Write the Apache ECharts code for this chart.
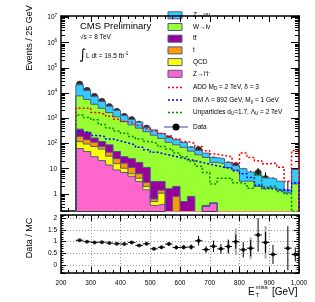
<!DOCTYPE html>
<html><head><meta charset="utf-8">
<script src="https://cdn.jsdelivr.net/npm/echarts@6.0.0/dist/echarts.min.js"></script>
<style>html,body{margin:0;padding:0;background:#fff}#c{width:315px;height:302px}</style>
</head><body><div id="c"></div>
<script>
// ---------------- data ----------------
const binLow = [250,275,300,325,350,375,400,425,450,475,500,525,550,575,600,625,650,675,700,725,750,775,800,825,850,875,900,925,950,975];
const binWidth = 25;
const zll       = [63,48,30,21,14,8.9,7.1,5.0,3.1,1.45,0.35,0.40,0,0,0,0,0,0.32,0.43,0,0,0,0,0,0,0,0,0,0,0];
const qcd       = [55,47,46,39,17.5,6.9,3.4,1.3,1.1,0.55,0.15,0.67,0,0,0,0,0,0,0,0,0,0,0,0,0,0,0,0,0,0];
const singleTop = [73,46,36,16,14,9.3,6.1,4.9,2.1,0.82,0.13,0.34,0,0.79,0,0,0,0,0,0,0,0,0,0,0,0,0,0,0,0];
const ttbar     = [181,141,54,44,43,23,13.6,13.9,11.5,8.4,2.5,1.7,1.6,1.2,0.5,0.8,0,0.03,0,0,0,0,0,0,0,0,0,0,0,0];
const wlnu      = [7390,5340,3465,2392,1609,1100,711,525,389,284,211,155,110,87,70,49,35.5,27.8,17.4,15.8,11.2,8.9,3.2,3.2,2.0,1.8,1.7,1.4,1.1,2.5];
const znunu     = [13600,6970,3780,2165,1322,894,547,341,301,142,133,93,58,52,39,22,18,13.5,9.7,9.3,6.6,4.3,6.8,4.2,3.6,2.5,2.3,1.8,0.35,6.8];
const addSignal = [2512,2512,1698,1445,1202,912,741,631,525,398,316,251,200,151,120,102,76,52,38,33,30,16.6,41.7,28.2,20.9,15.8,16.6,11.5,3.1,52.5];
const dmSignal  = [302,263,209,186,151,126,105,89,71,56,45,38,33,28,24,21,17.8,15.1,13.2,11.2,10,8.3,6.3,4.5,2.2,1.66,1.51,1.45,1.26,2.8];
const unparticles = [1349,1072,871,575,417,316,257,191,151,120,100,76,60,42,30,20,12.6,7.1,2.5,4.2,4.2,2.8,2.5,1.66,5.6,1.58,2.0,1.26,1.0,0.2];
const dataCounts = [22400,12600,7300,4600,2850,1850,1170,870,585,400,240,188,152,105,83,56,56,28,22,17,14,13,7,5,7,4,2,null,1,4];
const dataErrLo  = [150,112,85,68,53,43,34,29,24,20,15.5,13.7,12.3,10.2,9.1,7.5,7.5,5.3,4.6,4.1,3.7,3.6,2.6,2.2,2.6,1.9,1.3,null,0.83,1.9];
const dataErrHi  = [150,112,85,68,53,43,34,29,24,20,15.5,13.7,12.3,10.2,9.1,7.5,7.5,6.3,5.7,5.2,4.8,4.7,3.8,3.4,3.8,3.2,2.6,null,2.3,3.2];
const ratio      = [1.06,1.00,0.97,0.98,0.94,0.91,0.90,0.97,0.84,0.91,0.69,0.76,0.90,0.75,0.76,0.77,1.04,0.66,0.80,0.69,0.79,1.00,0.65,0.72,1.29,0.97,0.45,null,0.72,0.45];
const ratioErr   = [0.01,0.01,0.012,0.015,0.02,0.025,0.03,0.035,0.04,0.05,0.05,0.06,0.08,0.08,0.09,0.11,0.21,0.14,0.25,0.21,0.30,0.30,0.33,0.35,0.72,0.45,0.41,null,0.95,0.30];
const ratioMcErr = [0,0,0,0,0,0,0,0,0,0,0,0,0,0,0,0,0,0,0,0,0.25,0.57,0,0.46,0,0.7,0,null,0,0];
const xTickValues = [200,300,400,500,600,700,800,900,1000];
const ratioTicks = [0,0.5,1,1.5,2];

// ---------------- helpers ----------------
const FONT = '"Liberation Sans", Arial, Helvetica, sans-serif';
const FLOOR = 1e-3;
const OUT = '#4d5a8f';
const nB = binLow.length;
function stepData(vals){
  const pts = [[binLow[0], FLOOR]];
  vals.forEach((v,i)=>pts.push([binLow[i], Math.max(v, FLOOR)]));
  pts.push([binLow[nB-1]+binWidth, Math.max(vals[nB-1], FLOOR)]);
  pts.push([binLow[nB-1]+binWidth, FLOOR]);
  return pts;
}
const comps = [
  {name:'Z→l⁺l⁻', vals:zll, color:'#ff66cc'},
  {name:'QCD', vals:qcd, color:'#ffff00'},
  {name:'t', vals:singleTop, color:'#ff9900'},
  {name:'tt̄', vals:ttbar, color:'#990099'},
  {name:'W→lν', vals:wlnu, color:'#99ff33'},
  {name:'Z→νν', vals:znunu, color:'#33ccff'}
];
let run = new Array(nB).fill(0);
comps.forEach(c=>{ run = run.map((r,i)=>r + c.vals[i]); c.cum = run.slice(); });

const series = [];
comps.slice().reverse().forEach(c=>{
  series.push({type:'line', name:c.name, step:'end', data:stepData(c.cum), symbol:'none',
    xAxisIndex:0, yAxisIndex:0, lineStyle:{color:OUT, width:1},
    areaStyle:{color:c.color, opacity:1, origin:'start'}, silent:true, animation:false});
});
[[addSignal,'#ff0000'],[dmSignal,'#0000ff'],[unparticles,'#008800']].forEach(([v,col])=>{
  series.push({type:'line', step:'end', data:stepData(v), symbol:'none', xAxisIndex:0, yAxisIndex:0,
    lineStyle:{color:col, width:1.5, type:[2,2]}, silent:true, animation:false});
});
const dErr = [];
binLow.forEach((x,i)=>{ if(dataCounts[i]!=null) dErr.push([x+binWidth/2, Math.max(dataCounts[i]-dataErrLo[i],FLOOR), dataCounts[i]+dataErrHi[i]]); });
series.push({type:'custom', xAxisIndex:0, yAxisIndex:0, data:dErr, encode:{x:0,y:[1,2]}, clip:true, silent:true, animation:false,
  renderItem:(p,api)=>{ const a=api.coord([api.value(0),api.value(1)]), b=api.coord([api.value(0),api.value(2)]);
    return {type:'line', shape:{x1:a[0],y1:a[1],x2:b[0],y2:b[1]}, style:{stroke:'#000', lineWidth:1}}; }});
series.push({type:'scatter', xAxisIndex:0, yAxisIndex:0, symbol:'circle', symbolSize:7, itemStyle:{color:'#000'},
  data: binLow.map((x,i)=>dataCounts[i]==null?null:[x+binWidth/2, dataCounts[i]]).filter(d=>d), silent:true, animation:false, clip:true});

// ratio panel
const rErr = [];
binLow.forEach((x,i)=>{ if(ratio[i]!=null) rErr.push([x+binWidth/2, ratio[i], ratioErr[i], ratioMcErr[i]]); });
series.push({type:'custom', xAxisIndex:2, yAxisIndex:2, data:rErr, encode:{x:0,y:1}, clip:true, silent:true, animation:false,
  renderItem:(p,api)=>{
    const x=api.value(0), r=api.value(1), e=api.value(2), g=api.value(3);
    const ch=[];
    if(g>0){ const a=api.coord([x,r-g]), b=api.coord([x,r+g]);
      ch.push({type:'line', shape:{x1:a[0],y1:a[1],x2:b[0],y2:b[1]}, style:{stroke:'#aaaaaa', lineWidth:2}}); }
    const a=api.coord([x,r-e]), b=api.coord([x,r+e]);
    ch.push({type:'line', shape:{x1:a[0],y1:a[1],x2:b[0],y2:b[1]}, style:{stroke:'#000', lineWidth:1}});
    const l=api.coord([x-binWidth/2,r]), rr=api.coord([x+binWidth/2,r]);
    ch.push({type:'line', shape:{x1:l[0],y1:l[1],x2:rr[0],y2:rr[1]}, style:{stroke:'#000', lineWidth:1}});
    return {type:'group', children:ch};
  }});
series.push({type:'scatter', xAxisIndex:2, yAxisIndex:2, symbol:'circle', symbolSize:4, itemStyle:{color:'#000'},
  data: binLow.map((x,i)=>ratio[i]==null?null:[x+binWidth/2, ratio[i]]).filter(d=>d), silent:true, animation:false});

// ---------------- axes ----------------
const lineS = {show:true, onZero:false, lineStyle:{color:'#000', width:1.5}};
function xAx(grid, pos, label, split){
  return {type:'value', gridIndex:grid, position:pos, min:xTickValues[0], max:xTickValues[xTickValues.length-1], interval:100,
    axisLine:lineS, axisTick:{show:true, inside:true, length:6, lineStyle:{color:'#000', width:1}},
    minorTick:{show:true, splitNumber:4, length:3, lineStyle:{color:'#000', width:1}},
    axisLabel:{show:label, color:'#000', fontFamily:FONT, fontSize:6.5, margin:7},
    splitLine:{show:split, lineStyle:{color:'#999', width:1, type:[1,2]}}};
}
function logFmt(v){
  const l = Math.log10(v), n = Math.round(l);
  if (Math.abs(l-n) > 1e-6) return '';
  if (n===0) return '1'; if (n===1) return '10';
  return '10{s|'+n+'}';
}
function yLog(pos, label){
  return {type:'log', logBase:10, gridIndex:0, position:pos, min:0.21, max:1.15e7,
    axisLine:lineS, axisTick:{show:true, inside:true, length:8, lineStyle:{color:'#000', width:1}},
    minorTick:{show:true, splitNumber:9, length:4, lineStyle:{color:'#000', width:1}},
    axisLabel:{show:label, showMinLabel:false, showMaxLabel:false, formatter:logFmt, color:'#000', fontFamily:FONT, fontSize:6.5, margin:4,
      rich:{s:{fontSize:4.5, fontFamily:FONT, color:'#000', verticalAlign:'top', padding:[0,0,4,0]}}},
    splitLine:{show:false}};
}
function yRatio(pos, label){
  return {type:'value', gridIndex:1, position:pos, min:-0.35, max:2.15, splitNumber:5,
    axisLine:lineS, axisTick:{show:true, inside:true, length:5, lineStyle:{color:'#000', width:1}},
    minorTick:{show:true, splitNumber:5, length:2.5, lineStyle:{color:'#000', width:1}},
    axisLabel:{show:label, showMinLabel:false, showMaxLabel:false, color:'#000', fontFamily:FONT, fontSize:6.5, margin:4,
      formatter:v=>ratioTicks.some(t=>Math.abs(t-v)<1e-9)?String(v):''},
    splitLine:{show:label, lineStyle:{color:'#999', width:1, type:[1,2]}}};
}

// ---------------- legend & texts (graphic) ----------------
const g = [];
const LX = 168, TX = 193;
const legBoxes = [['Z→νν','#33ccff',15.3],['W→lν','#99ff33',27],['tt̄','#990099',38.7],['t','#ff9900',50.4],['QCD','#ffff00',62.1],['Z→l⁺l⁻','#ff66cc',73.8]];
legBoxes.forEach(([t,c,y])=>{
  g.push({type:'rect', shape:{x:LX, y:y-3.5, width:14, height:7}, style:{fill:c, stroke:OUT, lineWidth:1}});
  g.push({type:'text', x:TX, y:y, style:{text:t, fontFamily:FONT, fontSize:6.5, fill:'#000', verticalAlign:'middle'}});
});
const sub = {fontSize:4.5, fontFamily:FONT, fill:'#000', verticalAlign:'bottom', padding:[3,0,0,0]};
const legLines = [['ADD M{s|D} = 2 TeV, δ = 3','#ff0000',87.5],['DM Λ = 892 GeV, M{s|χ} = 1 GeV','#0000ff',100],['Unparticles d{s|U}=1.7, Λ{s|U} = 2 TeV','#008800',112.5]];
legLines.forEach(([t,c,y])=>{
  g.push({type:'line', shape:{x1:LX, y1:y, x2:LX+14, y2:y}, style:{stroke:c, lineWidth:1.5, lineDash:[2,2]}});
  g.push({type:'text', x:TX, y:y, style:{text:t, fontFamily:FONT, fontSize:6.5, fill:'#000', verticalAlign:'middle', rich:{s:sub}}});
});
g.push({type:'line', shape:{x1:LX-4, y1:127, x2:LX+20, y2:127}, style:{stroke:'#4040a0', lineWidth:1}});
g.push({type:'circle', shape:{cx:LX+8, cy:127, r:3.5}, style:{fill:'#000'}});
g.push({type:'text', x:TX, y:127, style:{text:'Data', fontFamily:FONT, fontSize:6.5, fill:'#000', verticalAlign:'middle'}});

g.push({type:'text', x:80, y:26, style:{text:'CMS Preliminary', fontFamily:FONT, fontSize:9.5, fill:'#000', verticalAlign:'middle'}});
g.push({type:'text', x:80, y:37.5, style:{text:'√s = 8 TeV', fontFamily:FONT, fontSize:6.5, fill:'#000', verticalAlign:'middle'}});
g.push({type:'text', x:79, y:55, style:{text:'∫', fontFamily:'"DejaVu Sans", sans-serif', fontSize:14, fill:'#000', verticalAlign:'middle'}});
g.push({type:'text', x:86, y:56, style:{text:'L dt = 19.5 fb{s|-1}', fontFamily:FONT, fontSize:6.5, fill:'#000', verticalAlign:'middle',
  rich:{s:{fontSize:4.5, fontFamily:FONT, fill:'#000', verticalAlign:'top', padding:[0,0,4,0]}}}});
g.push({type:'text', x:30, y:38, rotation:Math.PI/2, style:{text:'Events / 25 GeV', fontFamily:FONT, fontSize:9, fill:'#000', align:'center', verticalAlign:'middle'}});
g.push({type:'text', x:30, y:238, rotation:Math.PI/2, style:{text:'Data / MC', fontFamily:FONT, fontSize:9, fill:'#000', align:'center', verticalAlign:'middle'}});
g.push({type:'text', x:248, y:292, style:{text:'E', fontFamily:FONT, fontSize:10, fill:'#000', verticalAlign:'middle'}});
g.push({type:'text', x:255.5, y:287.5, style:{text:'miss', fontFamily:FONT, fontSize:6, fill:'#000', verticalAlign:'middle'}});
g.push({type:'text', x:255.5, y:295.5, style:{text:'T', fontFamily:FONT, fontSize:6, fill:'#000', verticalAlign:'middle'}});
g.push({type:'text', x:272, y:292, style:{text:'[GeV]', fontFamily:FONT, fontSize:10, fill:'#000', verticalAlign:'middle'}});

const chart = echarts.init(document.getElementById('c'), null, {renderer:'canvas', width:315, height:302});
chart.setOption({
  animation:false,
  backgroundColor:'#fff',
  grid:[{left:61, top:16, width:238, height:195}, {left:61, top:215, width:238, height:58}],
  xAxis:[xAx(0,'bottom',false,false), xAx(0,'top',false,false), xAx(1,'bottom',true,true), xAx(1,'top',false,false)],
  yAxis:[yLog('left',true), yLog('right',false), yRatio('left',true), yRatio('right',false)],
  series: series,
  graphic: g
});
</script></body></html>
